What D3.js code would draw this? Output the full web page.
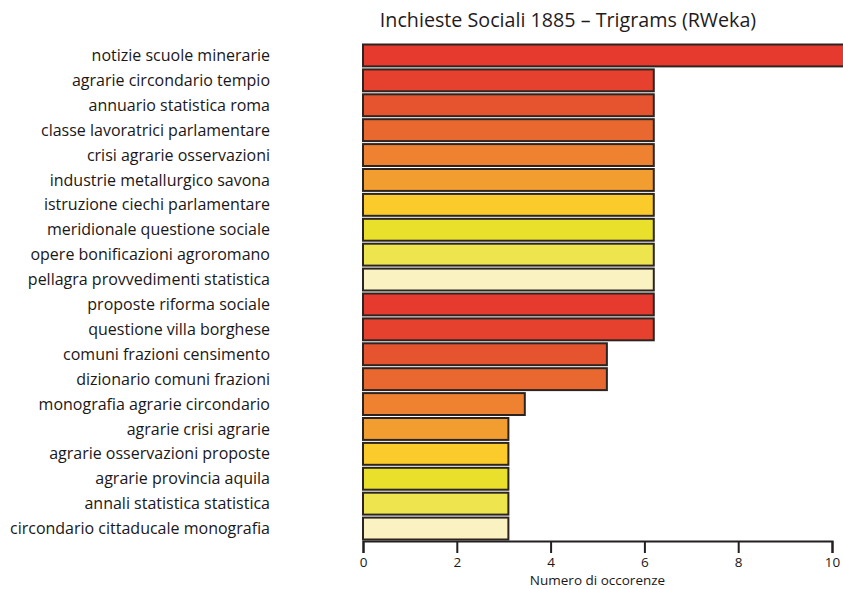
<!DOCTYPE html>
<html><head><meta charset="utf-8">
<script src="https://cdn.jsdelivr.net/npm/d3@7"></script>
<style>
body{margin:0;background:#fff;}
svg{display:block;font-family:"Open Sans",sans-serif;}
</style></head>
<body><svg id="c" width="843" height="589"></svg>
<script>
const categories = [
  "notizie scuole minerarie","agrarie circondario tempio","annuario statistica roma",
  "classe lavoratrici parlamentare","crisi agrarie osservazioni","industrie metallurgico savona",
  "istruzione ciechi parlamentare","meridionale questione sociale","opere bonificazioni agroromano",
  "pellagra provvedimenti statistica","proposte riforma sociale","questione villa borghese",
  "comuni frazioni censimento","dizionario comuni frazioni","monografia agrarie circondario",
  "agrarie crisi agrarie","agrarie osservazioni proposte","agrarie provincia aquila",
  "annali statistica statistica","circondario cittaducale monografia"
];
const values = [11, 6.2,6.2,6.2,6.2,6.2,6.2,6.2,6.2,6.2,6.2,6.2, 5.2,5.2,3.45,3.1,3.1,3.1,3.1,3.1];
const palette = ["#E63A2F","#E6402F","#E5542E","#E8682F","#EE8230","#F29D30","#FBCB2C","#E8E02A","#EEE54E","#FAF2C0"];
const xTicks = [0,2,4,6,8,10];
const title = "Inchieste Sociali 1885 \u2013 Trigrams (RWeka)";
const xTitle = "Numero di occorenze";

const svg = d3.select("#c");
const x = d3.scaleLinear().domain([0,10]).range([363,832]);
const y = d3.scaleBand().domain(categories).range([43,541]).paddingInner(0.12).paddingOuter(0.06);

svg.append("text").attr("x",568).attr("y",27).attr("text-anchor","middle")
  .attr("font-size",19.7).attr("fill","#1f1b1c").text(title);

svg.append("g").selectAll("rect").data(categories).join("rect")
  .attr("x",x(0)).attr("y",d=>y(d))
  .attr("width",(d,i)=>x(values[i])-x(0)).attr("height",y.bandwidth())
  .attr("fill",(d,i)=>palette[i%palette.length])
  .attr("stroke","#2b2420").attr("stroke-width",2);

svg.append("g").selectAll("text").data(categories).join("text")
  .attr("x",270).attr("y",d=>y(d)+y.bandwidth()/2).attr("dy","0.35em")
  .attr("text-anchor","end").attr("font-size",16).attr("fill","#1a1718").text(d=>d);

const ax = svg.append("g").attr("transform","translate(0,541)")
  .call(d3.axisBottom(x).tickValues(xTicks).tickSize(12).tickPadding(4).tickFormat(d3.format("d")));
ax.select(".domain").attr("stroke","#231f20").attr("stroke-width",2);
ax.selectAll(".tick line").attr("stroke","#231f20").attr("stroke-width",2);
ax.selectAll(".tick text").attr("font-size",13.5).attr("fill","#1a1718").attr("font-family","Open Sans, sans-serif");

svg.append("text").attr("x",x(5)).attr("y",585).attr("text-anchor","middle")
  .attr("font-size",13.5).attr("fill","#1a1718").text(xTitle);
</script></body></html>
